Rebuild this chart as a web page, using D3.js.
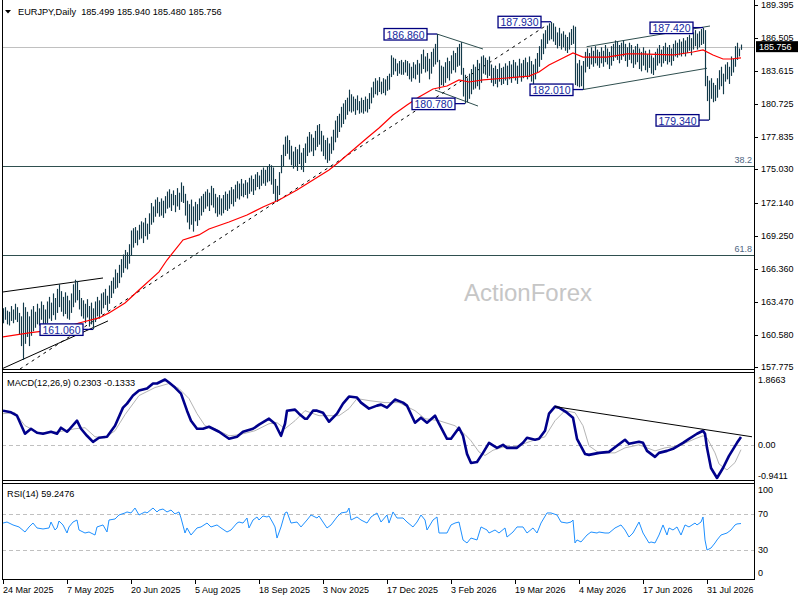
<!DOCTYPE html>
<html>
<head>
<meta charset="utf-8">
<script src="https://cdnjs.cloudflare.com/ajax/libs/d3/7.8.5/d3.min.js"></script>
<style>
  body { margin: 0; background: #fff; }
  svg { display: block; }
  text { font-family: "Liberation Sans", Arial, sans-serif; }
</style>
</head>
<body>
<svg id="chart" width="800" height="600"></svg>
<script>
// ---- data ----
const symbolName = 'EURJPY,Daily';
const lastOHLC = [185.499, 185.940, 185.480, 185.756];

const highs = [
  162.9,163.0,162.7,162.6,163.1,162.8,163.3,163.0,162.5,162.2,
  163.4,163.0,162.6,162.2,162.8,163.1,162.6,163.3,162.9,163.5,
  163.2,162.8,163.5,163.9,163.4,164.2,163.8,164.6,165.0,164.4,
  163.9,164.3,164.0,163.6,164.2,165.0,165.4,165.3,164.5,163.8,
  163.6,163.3,163.7,163.1,163.4,162.9,163.5,163.9,163.6,164.2,
  164.3,164.6,164.0,164.9,165.3,165.6,166.3,166.0,166.7,167.2,
  167.6,168.0,167.8,168.5,169.7,169.9,170.0,169.7,170.2,170.5,
  170.4,170.8,170.3,171.2,172.1,171.8,172.4,172.6,172.2,172.5,
  172.3,172.7,173.1,173.3,172.9,173.2,172.8,173.4,173.0,173.9,
  173.6,172.9,172.3,172.0,172.4,171.8,172.2,172.0,172.5,172.7,
  172.9,173.1,173.3,173.0,173.6,173.4,172.9,172.6,172.8,172.5,
  172.8,173.1,172.9,173.2,173.5,173.3,173.7,174.0,173.8,174.2,
  173.8,174.1,173.9,174.3,174.5,174.2,174.6,174.8,174.5,175.0,
  175.2,175.0,175.3,175.5,175.4,175.2,174.2,173.6,174.8,176.3,
  177.2,177.9,178.0,177.6,177.1,176.6,177.0,176.8,177.2,176.5,
  176.9,177.3,177.9,178.3,178.1,177.8,178.4,178.9,179.0,178.4,
  178.0,177.6,177.8,177.3,177.9,178.5,179.3,179.7,179.9,180.5,
  180.8,181.1,181.3,182.0,181.6,181.4,181.2,181.5,181.0,181.3,
  181.1,181.4,181.2,181.7,182.2,182.7,183.0,182.8,183.1,182.7,
  183.0,182.9,183.2,183.4,185.0,184.8,184.7,184.3,184.5,184.6,
  184.4,184.6,184.5,184.3,184.0,184.4,184.2,184.6,184.3,185.1,
  185.5,184.9,185.2,184.7,185.3,185.6,186.0,186.86,184.6,184.1,
  184.0,184.4,184.8,184.5,185.0,185.4,185.2,185.7,186.0,186.15,
  183.9,183.3,183.0,183.4,183.8,184.2,184.0,184.6,184.3,184.9,
  185.0,184.8,184.6,184.9,184.2,183.9,184.1,183.8,184.3,183.9,
  184.0,184.3,184.1,184.5,184.2,184.6,184.4,184.1,184.7,184.3,
  184.6,184.8,184.4,184.9,184.5,184.2,184.7,185.2,185.8,186.4,
  186.9,187.2,187.6,187.8,187.93,187.8,187.5,187.0,187.4,186.9,
  187.1,186.8,186.6,187.0,187.3,187.6,187.5,184.3,184.6,184.1,
  184.5,185.3,185.6,185.2,185.7,185.4,185.8,185.5,185.3,185.7,
  185.4,185.9,185.6,185.3,185.8,186.0,186.3,186.2,185.9,186.1,
  186.3,186.0,185.7,186.1,185.9,185.5,185.8,186.0,185.6,185.3,
  185.7,185.4,185.1,185.5,185.0,184.8,185.3,185.6,185.9,185.5,
  185.8,186.1,185.7,185.9,185.6,186.0,186.3,186.1,186.4,186.2,
  186.5,186.3,186.6,186.8,186.5,187.0,187.2,186.9,187.1,187.3,
  187.42,187.2,183.2,182.8,183.0,182.6,182.4,183.0,183.7,184.0,
  183.4,184.2,184.4,184.0,184.9,184.7,185.8,186.1,185.6,185.94
];

const lows = [
  161.6,161.9,161.5,161.4,161.8,161.6,161.9,161.7,160.6,159.6,
  158.4,159.8,160.4,159.6,160.5,160.9,161.2,161.5,161.4,161.9,
  161.5,161.3,161.6,162.0,161.8,162.3,161.9,162.5,163.0,162.6,
  162.2,162.4,162.0,161.9,162.5,163.0,163.4,163.6,162.8,162.2,
  162.0,161.6,162.1,161.3,161.5,161.06,161.7,162.2,162.0,162.4,
  162.9,163.2,162.7,163.3,163.8,164.2,164.6,164.7,165.1,165.6,
  166.0,166.4,166.3,166.8,167.5,168.2,168.6,168.4,168.9,169.0,
  168.6,169.2,168.9,169.4,170.2,170.4,170.9,171.2,170.9,171.0,
  170.8,171.2,171.6,171.7,171.4,171.9,171.3,171.8,171.5,172.2,
  172.1,171.0,170.4,169.8,170.2,169.6,170.5,170.1,170.6,171.0,
  171.3,171.6,171.8,171.4,171.9,171.7,171.2,170.9,171.1,171.0,
  171.2,171.5,171.4,171.6,172.0,171.8,172.2,172.5,172.4,172.7,
  172.6,172.8,172.5,172.9,173.1,172.8,173.2,173.5,173.3,173.6,
  173.8,173.6,173.9,174.0,173.7,172.9,172.2,172.2,172.8,174.7,
  175.3,176.2,176.4,175.9,175.4,175.1,175.3,174.9,175.5,175.0,
  174.8,175.6,176.2,176.5,176.6,176.2,176.7,177.0,177.2,176.6,
  176.2,175.9,175.6,175.8,176.4,176.7,177.4,177.8,178.3,178.7,
  179.0,179.4,179.8,180.1,180.0,180.1,179.8,180.2,179.9,180.0,
  179.9,180.1,180.0,180.3,180.8,181.3,181.6,181.5,181.8,181.6,
  181.7,181.5,181.9,182.0,183.1,183.3,183.6,183.2,183.4,183.3,
  183.3,183.5,183.2,182.9,182.7,183.0,182.9,183.3,182.6,183.4,
  183.8,183.5,183.6,182.9,183.4,184.0,184.2,184.4,182.0,182.4,
  182.3,182.6,183.0,182.8,183.4,183.7,183.5,184.0,184.1,183.3,
  181.4,180.78,180.9,181.2,181.6,182.0,182.1,182.3,182.0,182.6,
  183.4,183.3,183.0,183.2,182.6,182.3,182.5,182.2,182.7,182.4,
  182.5,182.8,182.4,182.9,182.6,183.0,182.8,182.5,183.1,182.7,
  183.0,183.2,182.9,183.1,182.7,182.4,182.9,183.5,184.0,184.6,
  185.1,185.6,186.0,186.3,186.4,186.2,185.9,185.6,185.8,185.5,
  185.7,185.4,185.2,185.5,185.9,186.0,182.4,182.3,182.2,182.3,
  182.01,183.5,184.0,183.8,184.2,184.0,184.3,184.1,183.9,184.3,
  184.0,184.4,184.2,183.8,184.1,184.5,184.8,184.6,184.3,184.6,
  184.9,184.5,184.0,184.6,184.3,183.9,184.2,184.4,183.8,183.6,
  184.1,183.7,183.5,183.9,183.4,183.28,183.7,184.1,184.3,184.0,
  184.3,184.5,184.2,184.4,184.1,184.5,184.9,184.8,185.0,184.9,
  185.1,184.9,185.2,185.4,185.0,185.5,185.8,185.5,185.7,185.9,
  186.0,182.3,181.0,179.34,181.2,180.9,181.0,181.3,182.0,182.3,
  181.6,182.7,182.9,182.5,183.2,183.5,184.0,184.6,184.9,185.48
];

// red moving average: [bar, price]
const maVals = [[0,160.40],[13,160.75],[28,161.09],[38,161.62],[48,162.06],[53,162.50],[61,163.37],[68,164.50],
  [78,166.08],[82,167.12],[90,168.87],[98,169.31],[103,169.83],[113,170.44],[122,171.05],[130,171.75],
  [138,172.36],[147,173.24],[155,174.11],[163,174.98],[168,175.68],[175,176.73],[182,177.78],[188,178.65],
  [195,179.79],[202,180.66],[208,181.36],[215,182.06],[222,182.32],[228,182.85],[233,182.67],[240,182.85],
  [252,183.02],[263,183.19],[268,183.54],[273,184.15],[278,184.59],[285,185.20],[290,184.85],[302,184.85],
  [312,185.12],[318,185.12],[335,185.03],[345,185.29],[350,185.47],[355,185.03],[360,184.68],[364,184.68],
  [369,184.77]];

// MACD(12,26,9): [bar, value]
const macdMain = [[0,0.978],[4,0.93],[7,0.835],[11,0.32],[14,0.463],[17,0.348],[20,0.32],[24,0.377],[27,0.32],
  [29,0.492],[32,0.377],[33,0.434],[37,0.692],[39,0.463],[42,0.262],[45,0.09],[48,0.205],[52,0.234],[56,0.549],
  [60,1.064],[62,1.179],[65,1.408],[68,1.552],[72,1.609],[75,1.752],[77,1.752],[81,1.8663],[83,1.781],[86,1.637],
  [89,1.465],[92,0.978],[94,0.692],[97,0.463],[100,0.463],[103,0.52],[108,0.377],[113,0.176],[117,0.234],
  [120,0.377],[125,0.463],[128,0.578],[133,0.749],[136,0.606],[137,0.49],[139,0.262],[141,0.606],[142,0.978],
  [146,1.007],[148,0.892],[151,0.749],[152,0.749],[155,0.978],[157,0.978],[160,0.921],[163,0.663],[167,0.892],
  [170,1.179],[173,1.38],[177,1.351],[179,1.208],[183,1.036],[187,1.122],[189,1.15],[192,1.064],[196,1.294],
  [200,1.208],[202,1.122],[206,0.635],[209,0.778],[212,0.635],[216,0.835],[218,0.606],[222,0.176],[224,0.176],
  [228,0.492],[230,0.262],[232,-0.254],[234,-0.511],[237,-0.483],[240,-0.225],[243,0.062],[247,-0.082],
  [250,0.004],[252,-0.082],[257,-0.082],[260,0.062],[262,0.205],[266,0.148],[268,0.176],[271,0.406],[273,0.892],
  [276,1.093],[278,1.064],[282,0.921],[285,0.778],[287,0.176],[291,-0.254],[293,-0.282],[298,-0.225],
  [303,-0.196],[307,-0.024],[311,0.148],[313,0.033],[318,0.09],[320,0.062],[322,-0.168],[326,-0.339],
  [328,-0.225],[332,-0.168],[335,-0.11],[340,0.062],[343,0.176],[347,0.32],[350,0.406],[351,0.32],[352,-0.082],
  [354,-0.655],[357,-0.9411],[360,-0.655],[363,-0.311],[367,0.062],[369,0.2303]];

const macdSignal = [[0,0.892],[6,0.921],[11,0.549],[18,0.348],[28,0.377],[36,0.463],[41,0.492],[46,0.234],
  [51,0.205],[56,0.406],[61,0.864],[68,1.408],[76,1.637],[83,1.752],[88,1.609],[93,1.322],[97,0.892],
  [101,0.549],[106,0.463],[113,0.262],[118,0.291],[126,0.406],[133,0.606],[137,0.635],[141,0.463],[146,0.692],
  [151,0.978],[158,0.835],[168,0.835],[173,1.036],[177,1.322],[183,1.265],[191,1.208],[198,1.208],[206,0.978],
  [211,0.749],[218,0.692],[226,0.549],[231,0.30],[234,0.12],[238,-0.2],[241,-0.3],[245,-0.15],[250,-0.06],
  [256,-0.053],[263,0.09],[271,0.234],[276,0.692],[281,0.978],[286,0.921],[290,0.549],[293,-0.024],
  [298,-0.225],[306,-0.225],[311,-0.082],[318,0.004],[326,-0.168],[331,-0.082],[338,-0.024],[346,0.176],
  [350,0.262],[352,0.205],[356,-0.225],[358,-0.54],[362,-0.712],[366,-0.5],[369,-0.1333]];

// RSI(14): [bar, value]
const rsiVals = [[0,59.8],[2,60.9],[5,57.7],[8,55.5],[11,50.0],[13,55.5],[15,59.8],[17,54.4],[20,53.3],[23,54.4],
  [24,60.9],[26,52.2],[27,54.4],[28,62.0],[30,57.7],[32,48.9],[33,55.5],[35,60.9],[37,63.1],[38,52.2],[41,48.9],
  [43,50.0],[46,46.7],[47,55.5],[50,57.7],[52,50.0],[53,63.1],[56,64.2],[58,68.6],[61,70.8],[62,71.9],[64,70.8],
  [66,76.2],[68,68.6],[71,71.9],[72,70.8],[75,76.2],[77,71.9],[78,74.0],[80,75.1],[82,71.9],[84,74.0],[86,69.7],
  [88,71.9],[89,65.3],[91,48.9],[92,54.4],[94,46.7],[97,54.4],[99,55.5],[102,59.8],[104,55.5],[107,57.7],
  [109,54.4],[112,50.0],[114,52.2],[117,59.8],[118,60.9],[120,59.8],[122,65.3],[123,54.4],[125,63.1],[127,66.4],
  [128,63.1],[130,67.5],[132,66.4],[133,67.5],[135,59.8],[136,55.5],[137,43.4],[139,55.5],[141,70.8],[142,71.9],
  [144,59.8],[147,60.9],[149,55.5],[152,63.1],[154,68.6],[157,65.3],[158,67.5],[160,60.9],[162,54.4],[164,57.7],
  [167,66.4],[169,70.8],[172,71.9],[173,76.2],[174,63.1],[177,66.4],[179,63.1],[182,59.8],[184,66.4],[187,70.8],
  [189,60.9],[192,68.6],[193,59.8],[195,71.9],[197,65.3],[200,65.3],[202,60.9],[205,55.5],[207,60.9],[209,68.6],
  [211,63.1],[212,52.2],[215,63.1],[217,66.4],[218,48.9],[220,48.9],[222,48.9],[224,57.7],[226,59.8],[228,60.9],
  [230,41.3],[232,38.0],[234,43.4],[237,41.3],[239,55.5],[242,52.2],[243,48.9],[246,52.2],[248,48.9],[251,54.4],
  [252,44.5],[255,50.0],[257,55.5],[260,55.5],[262,48.9],[265,54.4],[267,48.9],[269,59.8],[272,70.8],[274,70.8],
  [277,68.6],[279,60.9],[282,59.8],[284,60.9],[285,63.1],[286,38.0],[287,41.3],[289,39.1],[292,46.7],[294,50.0],
  [297,48.9],[298,50.0],[301,48.9],[303,48.9],[306,54.4],[309,57.7],[311,52.2],[313,44.5],[315,48.9],[318,60.9],
  [320,48.9],[323,38.0],[324,39.1],[326,38.0],[328,46.7],[330,57.7],[332,46.7],[333,54.4],[335,52.2],[337,55.5],
  [339,46.7],[341,57.7],[343,55.5],[346,59.8],[347,57.7],[349,60.9],[350,66.4],[351,41.3],[352,30.3],[354,32.5],
  [356,38.0],[357,41.3],[359,46.7],[362,48.9],[364,52.2],[366,57.7],[367,58.8],[369,59.2476]];

const priceTicks = [189.395, 186.505, 183.615, 180.725, 177.835, 175.030, 172.140, 169.250, 166.360, 163.470, 160.580, 157.775];
const macdTicks = [1.8663, 0, -0.9411];
const rsiTicks = [100, 70, 30, 0];
const rsiLevels = [70, 30];
const dateLabels = ['24 Mar 2025', '7 May 2025', '20 Jun 2025', '5 Aug 2025', '18 Sep 2025', '3 Nov 2025',
  '17 Dec 2025', '3 Feb 2026', '19 Mar 2026', '4 May 2026', '17 Jun 2026', '31 Jul 2026'];
const barsPerDateLabel = 32;

const fibLevels = [[38.2, 175.33], [61.8, 167.55]];
// swing highs / lows marked with price boxes: [bar, price]
const pivots = [[45,161.06],[217,186.86],[231,180.78],[274,187.93],[290,182.01],[350,187.42],[353,179.34]];
// drawn lines: pairs of [bar, price]
const wedgeLines = [[[0,164.33],[50,165.55]], [[0,157.66],[52.5,161.80]]];
const patternLines = [[[217,186.86],[240,185.55]], [[216,181.97],[237.5,180.57]],
  [[290,182.01],[352,183.87]], [[291.8,185.75],[353.5,187.56]]];
const dashedTrend = [[8.5,157.6],[272,187.65]];
const macdTrend = [[276,1.093],[374.5,0.234]];

// ---- layout ----
const AX = 754;
const main = { top: 0, bottom: 369 };
const macdP = { top: 372, bottom: 480 };
const rsiP = { top: 483, bottom: 579 };

const svg = d3.select('#chart');
const x = d3.scaleLinear().domain([0, highs.length - 1]).range([3, 741]);
const yP = d3.scaleLinear().domain([157.775, 189.395]).range([367, 5]);
const yM = d3.scaleLinear().domain([-0.9411, 1.8663]).range([478, 379.5]);
const yR = d3.scaleLinear().domain([0, 100]).range([577.75, 486.25]);

const defs = svg.append('defs');
[['clipMain', main], ['clipMacd', macdP], ['clipRsi', rsiP]].forEach(([id, p]) => {
  defs.append('clipPath').attr('id', id).append('rect')
    .attr('x', 3).attr('y', p.top + 1).attr('width', AX - 3).attr('height', p.bottom - p.top - 1);
});

const gMain = svg.append('g').attr('clip-path', 'url(#clipMain)');

// watermark
gMain.append('text')
  .attr('x', 528).attr('y', 301)
  .attr('text-anchor', 'middle')
  .attr('font-size', 24)
  .attr('fill', '#c6c6c6')
  .text('ActionForex');

// fibonacci levels
fibLevels.forEach(([lvl, price]) => {
  gMain.append('line')
    .attr('x1', 2).attr('x2', AX)
    .attr('y1', Math.round(yP(price)) + 0.5).attr('y2', Math.round(yP(price)) + 0.5)
    .attr('stroke', '#2f4f4f').attr('stroke-width', 1);
  gMain.append('text')
    .attr('x', AX - 2).attr('y', yP(price) - 3)
    .attr('text-anchor', 'end')
    .attr('font-size', 9)
    .attr('fill', '#4e6682')
    .text(lvl.toFixed(1));
});

// current price line
gMain.append('line')
  .attr('x1', 2).attr('x2', AX)
  .attr('y1', Math.round(yP(lastOHLC[3])) + 0.5).attr('y2', Math.round(yP(lastOHLC[3])) + 0.5)
  .attr('stroke', '#c0c0c0');

const pline = d3.line().x(d => x(d[0])).y(d => yP(d[1]));

gMain.append('path').datum(dashedTrend)
  .attr('d', pline).attr('fill', 'none')
  .attr('stroke', '#000').attr('stroke-dasharray', '3,4');

gMain.selectAll('.wedge').data(wedgeLines).join('path')
  .attr('class', 'wedge')
  .attr('d', pline).attr('fill', 'none').attr('stroke', '#000');

gMain.selectAll('.pattern').data(patternLines).join('path')
  .attr('class', 'pattern')
  .attr('d', pline).attr('fill', 'none').attr('stroke', '#2f4f4f');

// OHLC bars (high-low sticks at this zoom)
gMain.append('g').selectAll('line').data(highs).join('line')
  .attr('x1', (d, i) => x(i) + 0.5).attr('x2', (d, i) => x(i) + 0.5)
  .attr('y1', d => yP(d)).attr('y2', (d, i) => yP(lows[i]))
  .attr('stroke', '#133a4a').attr('stroke-width', 1.15);

// moving average
gMain.append('path').datum(maVals)
  .attr('d', pline).attr('fill', 'none')
  .attr('stroke', '#ff0000').attr('stroke-width', 1.2);

// pivot price boxes
pivots.forEach(([bar, price]) => {
  const bx = x(bar), by = yP(price);
  const g = gMain.append('g');
  const t = g.append('text')
    .attr('font-size', 10.5)
    .attr('fill', '#1428a0')
    .attr('dominant-baseline', 'central')
    .text(price.toFixed(3));
  const w = t.node().getComputedTextLength() + 5;
  const right = bx - 10;
  t.attr('x', right - w + 2.5).attr('y', by + 0.5);
  g.insert('rect', 'text')
    .attr('x', right - w).attr('y', by - 5.5)
    .attr('width', w).attr('height', 11.5)
    .attr('fill', '#fff').attr('stroke', '#000080').attr('stroke-width', 1.3);
  g.append('line')
    .attr('x1', right).attr('x2', bx)
    .attr('y1', by).attr('y2', by)
    .attr('stroke', '#000080').attr('stroke-width', 1.3);
});

// ---- MACD panel ----
const gMacd = svg.append('g').attr('clip-path', 'url(#clipMacd)');
gMacd.append('line')
  .attr('x1', 2).attr('x2', AX)
  .attr('y1', Math.round(yM(0)) + 0.5).attr('y2', Math.round(yM(0)) + 0.5)
  .attr('stroke', '#c0c0c0').attr('stroke-dasharray', '4,3');
const mline = d3.line().x(d => x(d[0])).y(d => yM(d[1]));
gMacd.append('path').datum(macdSignal)
  .attr('d', mline).attr('fill', 'none').attr('stroke', '#b4b4b4').attr('stroke-width', 1);
gMacd.append('path').datum(macdMain)
  .attr('d', mline).attr('fill', 'none').attr('stroke', '#00008b')
  .attr('stroke-width', 2.6).attr('stroke-linejoin', 'round');
gMacd.append('path').datum(macdTrend)
  .attr('d', mline).attr('fill', 'none').attr('stroke', '#000');

// ---- RSI panel ----
const gRsi = svg.append('g').attr('clip-path', 'url(#clipRsi)');
gRsi.selectAll('.lvl').data(rsiLevels).join('line')
  .attr('class', 'lvl')
  .attr('x1', 2).attr('x2', AX)
  .attr('y1', d => Math.round(yR(d)) + 0.5).attr('y2', d => Math.round(yR(d)) + 0.5)
  .attr('stroke', '#c0c0c0').attr('stroke-dasharray', '4,3');
gRsi.append('path').datum(rsiVals)
  .attr('d', d3.line().x(d => x(d[0])).y(d => yR(d[1])))
  .attr('fill', 'none').attr('stroke', '#1e90ff').attr('stroke-width', 1);

// ---- frames ----
const frame = svg.append('g').attr('stroke', '#000').attr('stroke-width', 1);
[main.bottom, macdP.top, macdP.bottom, rsiP.top, rsiP.bottom].forEach(yy => {
  frame.append('line').attr('x1', 2).attr('x2', AX + 1).attr('y1', yy + 0.5).attr('y2', yy + 0.5);
});
frame.append('line').attr('x1', 2.5).attr('x2', 2.5).attr('y1', 0).attr('y2', rsiP.bottom + 1);
frame.append('line').attr('x1', AX + 0.5).attr('x2', AX + 0.5).attr('y1', 0).attr('y2', rsiP.bottom + 1);

// ---- axes labels ----
const axisG = svg.append('g').attr('font-size', 9).attr('fill', '#000');
priceTicks.forEach(v => {
  const yy = yP(v);
  axisG.append('line').attr('x1', AX).attr('x2', AX + 4)
    .attr('y1', Math.round(yy) + 0.5).attr('y2', Math.round(yy) + 0.5).attr('stroke', '#000');
  axisG.append('text').attr('x', 761).attr('y', yy).attr('dominant-baseline', 'central').text(v.toFixed(3));
});
macdTicks.forEach(v => {
  axisG.append('text').attr('x', 758).attr('y', Math.min(yM(v), 476))
    .attr('dominant-baseline', 'central')
    .text(v === 0 ? '0.00' : v.toFixed(4));
});
rsiTicks.forEach(v => {
  axisG.append('text').attr('x', 758).attr('y', Math.max(490, Math.min(yR(v), 573)))
    .attr('dominant-baseline', 'central').text(v);
});

// current price tag
svg.append('rect').attr('x', 756).attr('y', yP(lastOHLC[3]) - 5.5)
  .attr('width', 42).attr('height', 11).attr('fill', '#000');
svg.append('text').attr('x', 759).attr('y', yP(lastOHLC[3]))
  .attr('dominant-baseline', 'central').attr('font-size', 9).attr('fill', '#fff')
  .text(lastOHLC[3].toFixed(3));

// date axis
dateLabels.forEach((lab, k) => {
  const xx = x(k * barsPerDateLabel);
  axisG.append('line').attr('x1', xx + 0.5).attr('x2', xx + 0.5)
    .attr('y1', rsiP.bottom + 1).attr('y2', rsiP.bottom + 5).attr('stroke', '#000');
  axisG.append('text').attr('x', xx).attr('y', 593).text(lab);
});

// ---- headers ----
svg.append('path').attr('d', 'M5,10 L11,10 L8,13.5 Z').attr('fill', '#000');
svg.append('text').attr('x', 18).attr('y', 15).attr('font-size', 9.2)
  .text(symbolName + '\u00a0\u00a0' + lastOHLC.map(v => v.toFixed(3)).join(' '));
svg.append('text').attr('x', 7).attr('y', 386).attr('font-size', 9.2)
  .text('MACD(12,26,9) ' + macdMain[macdMain.length - 1][1].toFixed(4) + ' ' + macdSignal[macdSignal.length - 1][1].toFixed(4));
svg.append('text').attr('x', 7).attr('y', 497).attr('font-size', 9.2)
  .text('RSI(14) ' + rsiVals[rsiVals.length - 1][1].toFixed(4));
</script>
</body>
</html>
